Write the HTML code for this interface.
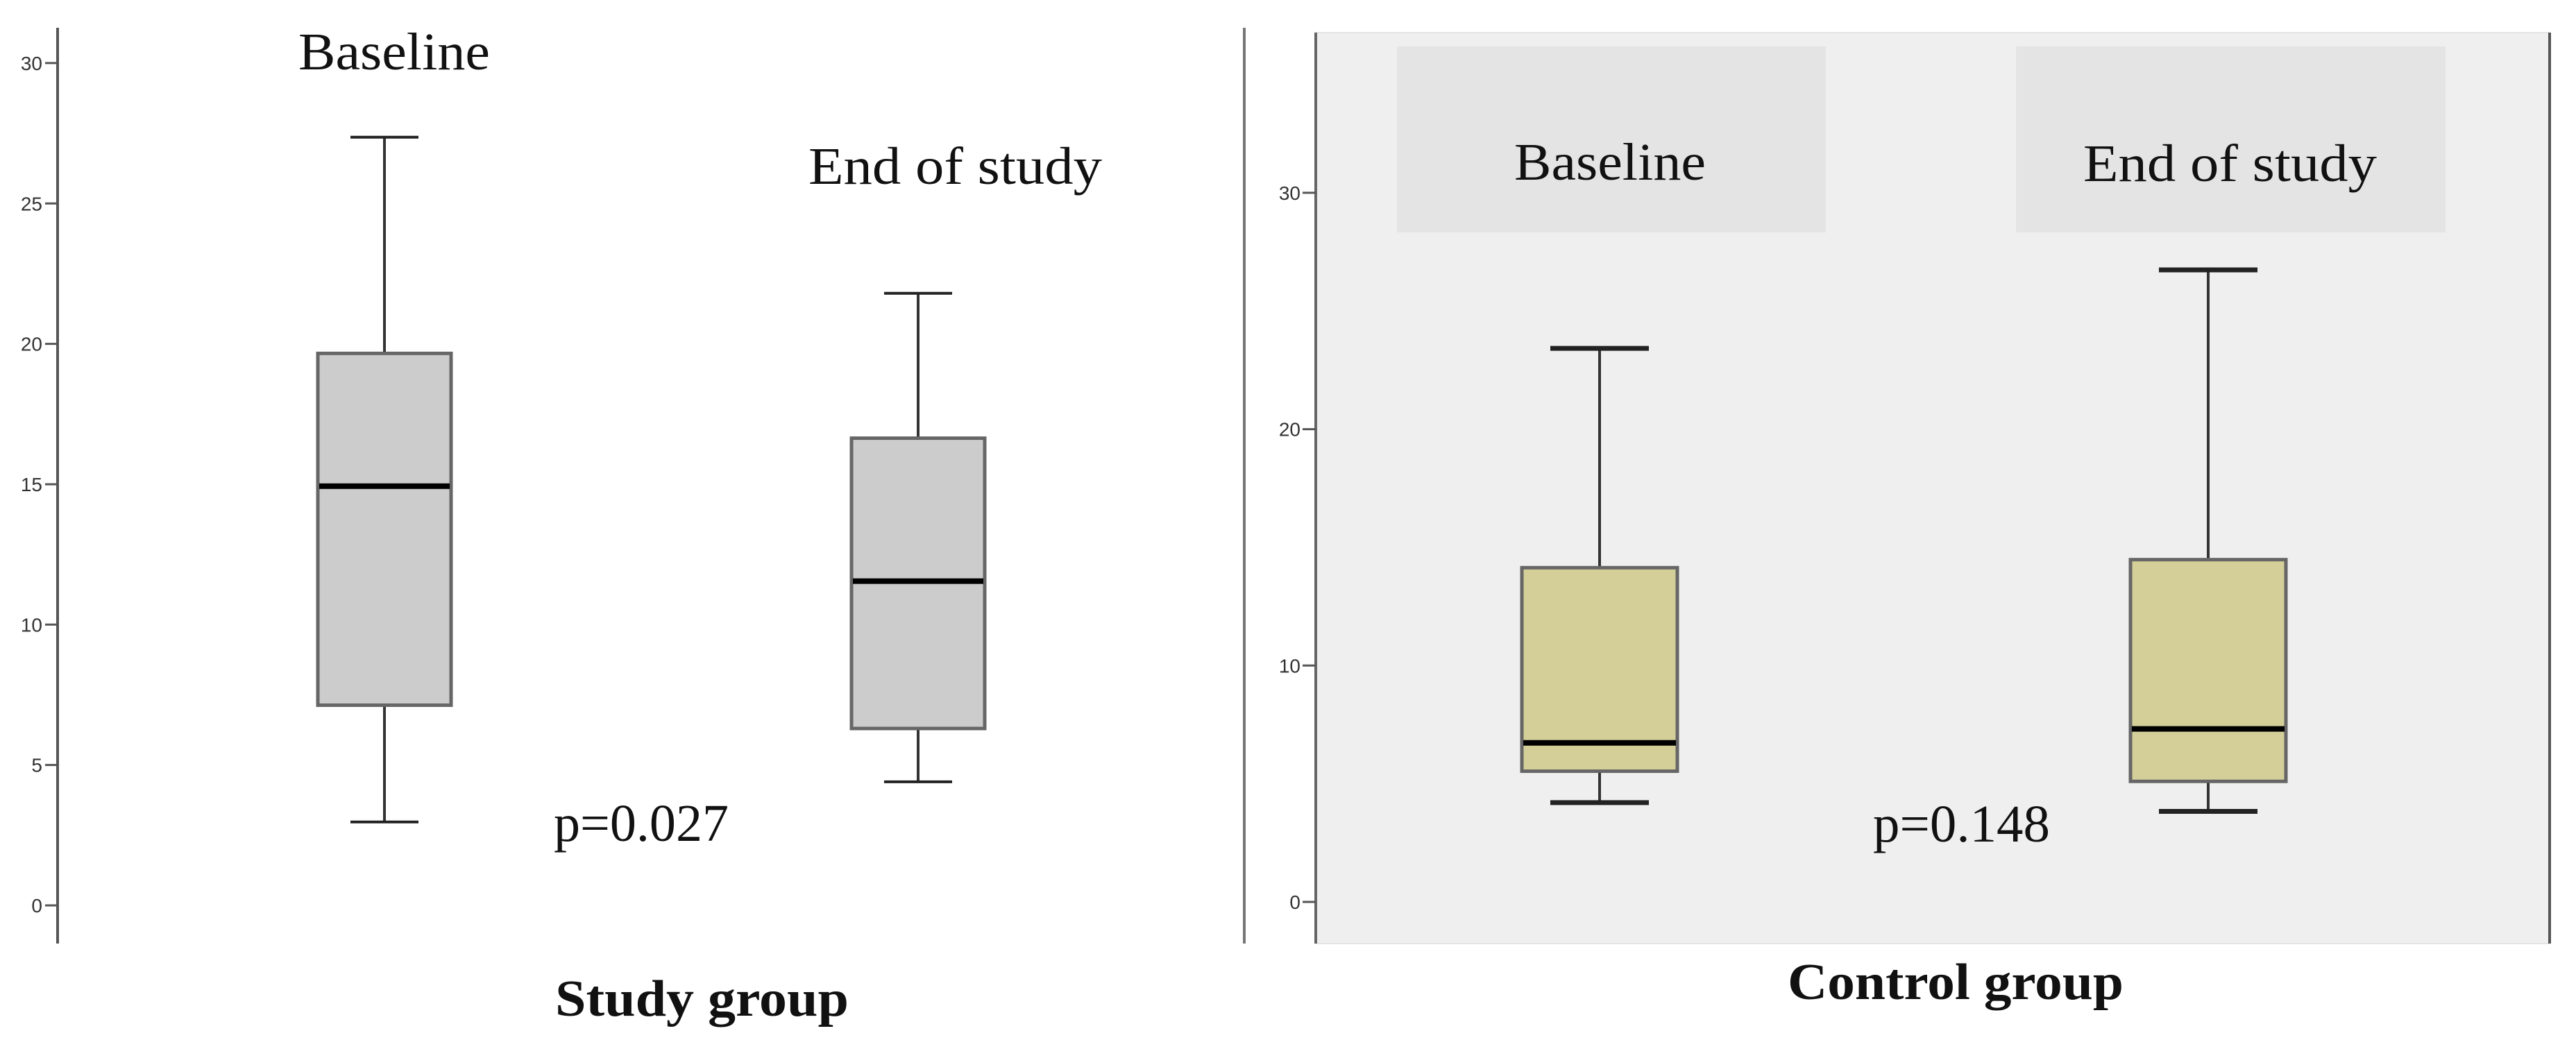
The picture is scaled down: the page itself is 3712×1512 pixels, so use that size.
<!DOCTYPE html>
<html><head><meta charset="utf-8"><style>
html,body{margin:0;padding:0;background:#fff;width:3712px;height:1512px;overflow:hidden}
svg{display:block}
</style></head><body>
<svg id="chart" width="3712" height="1512" viewBox="0 0 3712 1512" xmlns="http://www.w3.org/2000/svg">
<g id="left"></g>
<g id="right"></g>
</svg>
<script>
// Data
const groups = ["Baseline", "End of study"];
const studyMin = [2.97, 4.4];
const studyQ1 = [7.13, 6.3];
const studyMed = [14.93, 11.55];
const studyQ3 = [19.66, 16.64];
const studyMax = [27.36, 21.8];
const ctrlMin = [4.2, 3.83];
const ctrlQ1 = [5.53, 5.1];
const ctrlMed = [6.73, 7.32];
const ctrlQ3 = [14.14, 14.48];
const ctrlMax = [23.42, 26.74];
const studyTicks = [0, 5, 10, 15, 20, 25, 30];
const ctrlTicks = [0, 10, 20, 30];
const pValues = ["p=0.027", "p=0.148"];

const NS = "http://www.w3.org/2000/svg";
function el(parent, tag, attrs, text) {
  const e = document.createElementNS(NS, tag);
  for (const k in attrs) e.setAttribute(k, attrs[k]);
  if (text !== undefined) e.textContent = text;
  parent.appendChild(e);
  return e;
}
const yL = v => 1305 - v * 40.47;
const yR = v => 1300 - v * 34.07;
const xL = i => [554, 1323][i];
const xR = i => [2305, 3182][i];

// ---------- Left panel ----------
const L = document.getElementById("left");
let a = el(L, "line", {x1: 83, y1: 40, x2: 83, y2: 1360, stroke: "#555", "stroke-width": 4});


studyTicks.forEach(t => {
  const tk = el(L, "line", {x1: 65, y1: yL(t), x2: 83, y2: yL(t), stroke: "#555", "stroke-width": 3});
  
  
  const tl = el(L, "text", {x: 61, y: yL(t) + 10, "text-anchor": "end", "font-family": "Liberation Sans, sans-serif", "font-size": 28, fill: "#333"}, String(t));
  
  
});
const sep = el(L, "line", {x1: 1793, y1: 40, x2: 1793, y2: 1360, stroke: "#777", "stroke-width": 4});



function drawBox(parent, x, lo, q1, md, q3, hi, y, w, capW, fill, capWidth, prefix) {
  const g = el(parent, "g", {});
  
  
  const w1 = el(g, "line", {x1: x, y1: y(hi), x2: x, y2: y(q3), stroke: "#333", "stroke-width": 4});
  
  
  const w2 = el(g, "line", {x1: x, y1: y(q1), x2: x, y2: y(lo), stroke: "#333", "stroke-width": 4});
  
  
  const c1 = el(g, "line", {x1: x - capW / 2, y1: y(hi), x2: x + capW / 2, y2: y(hi), stroke: "#222", "stroke-width": capWidth});
  
  
  const c2 = el(g, "line", {x1: x - capW / 2, y1: y(lo), x2: x + capW / 2, y2: y(lo), stroke: "#222", "stroke-width": capWidth});
  
  
  const r = el(g, "rect", {x: x - w / 2, y: y(q3), width: w, height: y(q1) - y(q3), fill: fill, stroke: "#666", "stroke-width": 5});
  
  
  const m = el(g, "line", {x1: x - w / 2 + 2, y1: y(md), x2: x + w / 2 - 2, y2: y(md), stroke: "#000", "stroke-width": 8});
  
  
}
groups.forEach((g, i) => {
  drawBox(L, xL(i), studyMin[i], studyQ1[i], studyMed[i], studyQ3[i], studyMax[i], yL, 192, 98, "#cccccc", 4, 'study-' + (i ? 'end' : 'baseline'));
});
const serif = "Liberation Serif, serif";
let t;
t = el(L, "text", {x: 430, y: 100, "font-family": serif, "font-size": 76, fill: "#111", textLength: 276, lengthAdjust: "spacingAndGlyphs"}, groups[0]);


t = el(L, "text", {x: 1165, y: 265, "font-family": serif, "font-size": 76, fill: "#111", textLength: 423, lengthAdjust: "spacingAndGlyphs"}, groups[1]);


t = el(L, "text", {x: 798, y: 1212, "font-family": serif, "font-size": 76, fill: "#111", textLength: 252, lengthAdjust: "spacingAndGlyphs"}, pValues[0]);


t = el(L, "text", {x: 800, y: 1464, "font-family": serif, "font-size": 74, "font-weight": "bold", fill: "#111", textLength: 423, lengthAdjust: "spacingAndGlyphs"}, "Study group");



// ---------- Right panel ----------
const R = document.getElementById("right");
const bg = el(R, "rect", {x: 1896, y: 47, width: 1778, height: 1313, fill: "#efefef", stroke: "#e4e4e4", "stroke-width": 2});


const lb1 = el(R, "rect", {x: 2013, y: 67, width: 618, height: 268, fill: "#e4e4e4"});


const lb2 = el(R, "rect", {x: 2905, y: 67, width: 619, height: 268, fill: "#e4e4e4"});


const rb = el(R, "line", {x1: 3674, y1: 47, x2: 3674, y2: 1360, stroke: "#555", "stroke-width": 4});


a = el(R, "line", {x1: 1896, y1: 47, x2: 1896, y2: 1360, stroke: "#666", "stroke-width": 4});


ctrlTicks.forEach(tv => {
  const tk = el(R, "line", {x1: 1877, y1: yR(tv), x2: 1896, y2: yR(tv), stroke: "#555", "stroke-width": 3});
  
  
  const tl = el(R, "text", {x: 1874, y: yR(tv) + 10, "text-anchor": "end", "font-family": "Liberation Sans, sans-serif", "font-size": 28, fill: "#333"}, String(tv));
  
  
});
groups.forEach((g, i) => {
  drawBox(R, xR(i), ctrlMin[i], ctrlQ1[i], ctrlMed[i], ctrlQ3[i], ctrlMax[i], yR, 224, 142, "#d4cf99", 7, 'control-' + (i ? 'end' : 'baseline'));
});
t = el(R, "text", {x: 2182, y: 259, "font-family": serif, "font-size": 76, fill: "#111", textLength: 276, lengthAdjust: "spacingAndGlyphs"}, groups[0]);


t = el(R, "text", {x: 3002, y: 261, "font-family": serif, "font-size": 76, fill: "#111", textLength: 423, lengthAdjust: "spacingAndGlyphs"}, groups[1]);


t = el(R, "text", {x: 2699, y: 1213, "font-family": serif, "font-size": 76, fill: "#111", textLength: 255, lengthAdjust: "spacingAndGlyphs"}, pValues[1]);


t = el(R, "text", {x: 2576, y: 1440, "font-family": serif, "font-size": 74, "font-weight": "bold", fill: "#111", textLength: 484, lengthAdjust: "spacingAndGlyphs"}, "Control group");


</script>
</body></html>
